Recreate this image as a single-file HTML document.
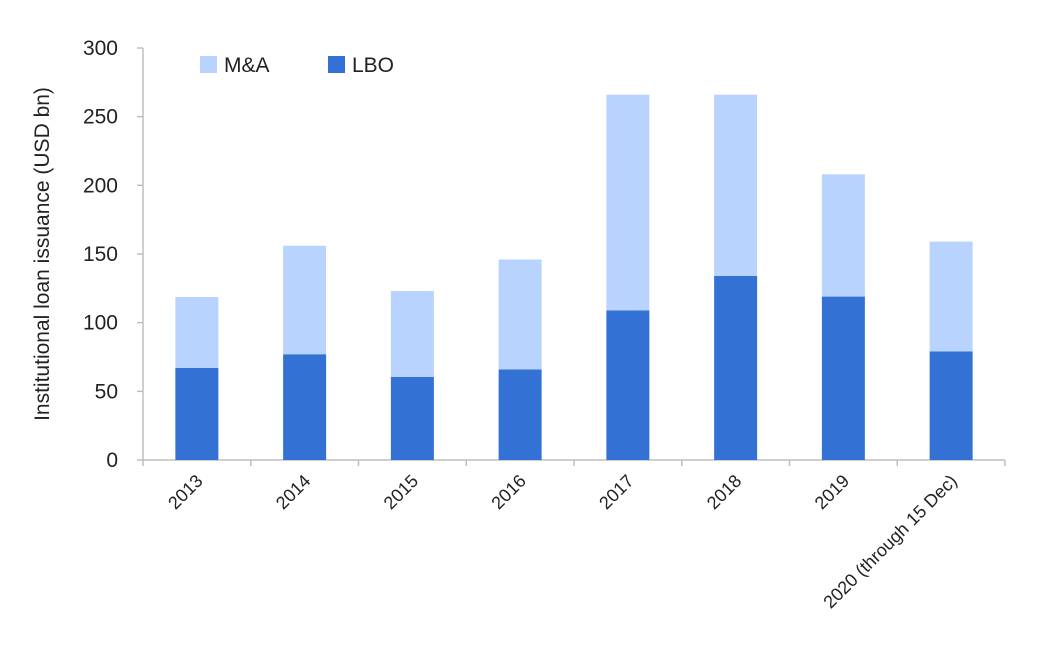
<!DOCTYPE html>
<html><head><meta charset="utf-8"><style>
html,body{margin:0;padding:0;background:#fff;}
svg{display:block;font-family:"Liberation Sans",sans-serif;}
</style></head><body>
<svg id="chart" width="1041" height="664">
<g id="axes"></g>
<g id="bars"></g>
<g>
<rect x="200" y="56" width="17" height="17" fill="#b8d3fd"></rect>
<text x="224" y="72" font-size="21" fill="#222">M&amp;A</text>
<rect x="328" y="56" width="17" height="17" fill="#3372d4"></rect>
<text x="352" y="72" font-size="21" fill="#222">LBO</text>
</g>
<text transform="translate(49,254) rotate(-90)" text-anchor="middle" font-size="21" fill="#222">Institutional loan issuance (USD bn)</text>
</svg>
<script>
const categories=["2013","2014","2015","2016","2017","2018","2019","2020 (through 15 Dec)"];
const lboValues=[67,77,60.5,66,109,134,119,79];
const maValues=[51.7,79,62.5,80,157,132,89,80];
const yTicks=[0,50,100,150,200,250,300];
const NS="http://www.w3.org/2000/svg";
const x0=143,x1=1005,yBase=460,yTop=48,yMax=300;
const y=v=>yBase-(v/yMax)*(yBase-yTop);
const band=(x1-x0)/categories.length;
const cx=i=>x0+band*(i+0.5);
const barW=43;
const axes=document.getElementById('axes'),bars=document.getElementById('bars');
function mk(tag,attrs,parent){const e=document.createElementNS(NS,tag);for(const k in attrs)e.setAttribute(k,attrs[k]);parent.appendChild(e);return e;}
let l=mk('line',{x1:x0,y1:yTop,x2:x0,y2:yBase,stroke:'#bfbfbf','stroke-width':1.5},axes);


l=mk('line',{x1:x0,y1:yBase,x2:x1,y2:yBase,stroke:'#bfbfbf','stroke-width':1.5},axes);


yTicks.forEach(t=>{
 const tk=mk('line',{x1:x0-6,y1:y(t),x2:x0,y2:y(t),stroke:'#bfbfbf','stroke-width':1.5},axes);
 
 
 const tx=mk('text',{x:x0-25,y:y(t)+7,'text-anchor':'end','font-size':21,fill:'#222'},axes);
 tx.textContent=t;
 
 
});
for(let i=0;i<=categories.length;i++){
 const tk=mk('line',{x1:x0+band*i,y1:yBase,x2:x0+band*i,y2:yBase+6,stroke:'#bfbfbf','stroke-width':1.5},axes);
 
 
}
categories.forEach((c,i)=>{
 const tx=mk('text',{transform:`translate(${cx(i)+7},${yBase+22}) rotate(-45)`,'text-anchor':'end','font-size':18,fill:'#222'},axes);
 tx.textContent=c;
 
 
 const lb=lboValues[i],ma=maValues[i];
 const r1=mk('rect',{x:cx(i)-barW/2,y:y(lb),width:barW,height:yBase-y(lb),fill:'#3372d4'},bars);
 
 
 const r2=mk('rect',{x:cx(i)-barW/2,y:y(lb+ma),width:barW,height:y(lb)-y(lb+ma),fill:'#b8d3fd'},bars);
 
 
});
</script>
</body></html>
